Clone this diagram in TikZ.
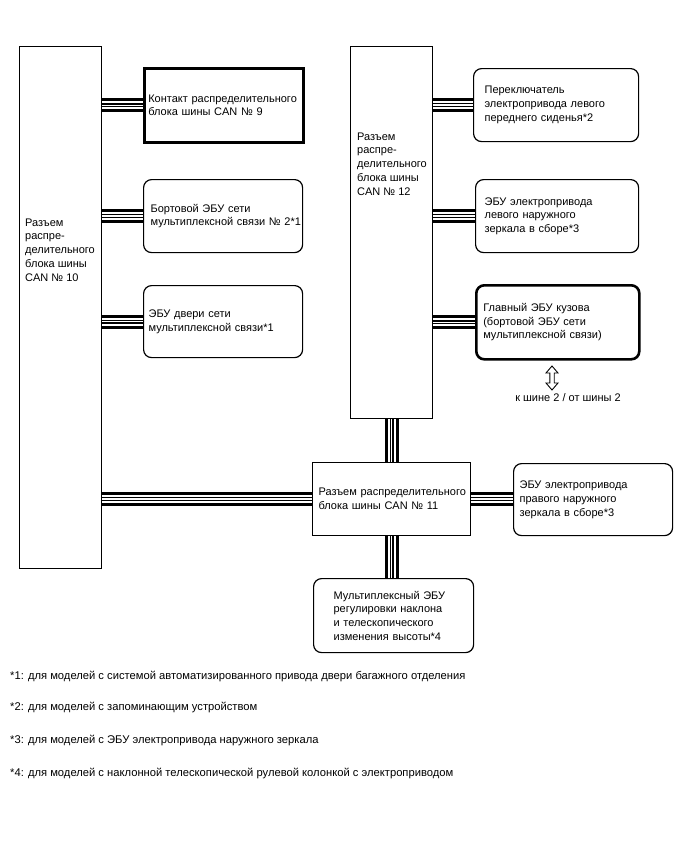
\documentclass[tikz,border=0pt]{standalone}
\usepackage{fontspec}
\setmainfont{Liberation Sans}
\usetikzlibrary{backgrounds}
\hfuzz=50pt
\begin{document}
\begin{tikzpicture}[x=1pt,y=-1pt,
  every node/.style={font=\fontsize{11}{13.75}\selectfont},
  sq/.style={draw, line width=1.2pt, fill=white, anchor=north west, inner ysep=0pt, align=left},
  thk/.style={sq, line width=2.6pt},
  rnd/.style={sq, rounded corners=8pt},
  rndthk/.style={rnd, line width=2.6pt},
  txt/.style={anchor=west, inner sep=0pt, align=left},
  bus/.style={line width=14pt,
    postaction={draw=white, line width=8pt},
    postaction={draw=black, line width=4.2pt},
    postaction={draw=white, line width=1.6pt}},
  note/.style={anchor=west, inner sep=0pt, font=\fontsize{11.2}{13}\selectfont}
]
\useasboundingbox (0,0) rectangle (688,852);

% tall connectors
\node[sq, minimum width=82pt, minimum height=522pt] (can10) at (19,46) {};
\node[txt] (t10) at (25,250) {Разъем\\распре-\\делительного\\блока шины\\CAN № 10};
\node[sq, minimum width=82pt, minimum height=372pt] (can12) at (350,46) {};
\node[txt] (t12) at (357,164) {Разъем\\распре-\\делительного\\блока шины\\CAN № 12};

% left column
\node[thk, minimum width=159pt, minimum height=74pt, inner xsep=4pt, text width=151pt] (c9) at (143,67)
  {\mbox{Контакт распределительного}\\блока шины CAN № 9};
\node[rnd, minimum width=159pt, minimum height=73pt, inner xsep=7pt, text width=145pt] (b2) at (143,179)
  {Бортовой ЭБУ сети\\\mbox{мультиплексной связи № 2*1}};
\node[rnd, minimum width=159pt, minimum height=72pt, inner xsep=5pt, text width=149pt] (dv) at (143,285)
  {ЭБУ двери сети\\мультиплексной связи*1};

% right column
\node[rnd, minimum width=165pt, minimum height=73pt, inner xsep=11pt, text width=143pt] (sw) at (473,68)
  {Переключатель\\электропривода левого\\переднего сиденья*2};
\node[rnd, minimum width=163pt, minimum height=73pt, inner xsep=9pt, text width=145pt] (lm) at (475,179)
  {ЭБУ электропривода\\левого наружного\\зеркала в сборе*3};
\node[rndthk, minimum width=163pt, minimum height=74pt, inner xsep=7pt, text width=149pt] (bm) at (475,284)
  {Главный ЭБУ кузова\\(бортовой ЭБУ сети\\мультиплексной связи)};

% bottom
\node[sq, minimum width=158pt, minimum height=73pt, inner xsep=6pt, text width=146pt] (can11) at (312,462)
  {\mbox{Разъем распределительного}\\блока шины CAN № 11};
\node[rnd, minimum width=159pt, minimum height=72pt, inner xsep=6pt, text width=147pt] (rm) at (513,463)
  {ЭБУ электропривода\\правого наружного\\зеркала в сборе*3};
\node[rnd, minimum width=160pt, minimum height=74pt, inner xsep=20pt, text width=120pt] (mx) at (313,578)
  {Мультиплексный ЭБУ\\регулировки наклона\\и телескопического\\изменения высоты*4};

% bus 2 arrow
\draw[line width=0.9pt, fill=white]
  (552,366) -- (558,373) -- (554.2,373) -- (554.2,383) -- (558,383) -- (552,390)
  -- (546,383) -- (549.8,383) -- (549.8,373) -- (546,373) -- cycle;
\node[inner sep=0pt] (bus2) at (568,398) {к шине 2 / от шины 2};

% footnotes
\node[note] (n1) at (10,676) {*1: для моделей с системой автоматизированного привода двери багажного отделения};
\node[note] (n2) at (10,707) {*2: для моделей с запоминающим устройством};
\node[note] (n3) at (10,740) {*3: для моделей с ЭБУ электропривода наружного зеркала};
\node[note] (n4) at (10,773) {*4: для моделей с наклонной телескопической рулевой колонкой с электроприводом};

\begin{pgfonlayer}{background}
\draw[bus] (can10.east |- c9.west) -- (c9.west);
\draw[bus] (can10.east |- b2.west) -- (b2.west);
\draw[bus] (can10.east |- dv.west) -- (dv.west);
\draw[bus] (can10.east |- can11.west) -- (can11.west);
\draw[bus] (can12.east |- sw.west) -- (sw.west);
\draw[bus] (can12.east |- lm.west) -- (lm.west);
\draw[bus] (can12.east |- bm.west) -- (bm.west);
\draw[bus] (can12.south) -- (can12.south |- can11.north);
\draw[bus] (can11.east) -- (can11.east -| rm.west);
\draw[bus] (can11.south) -- (can11.south |- mx.north);
\end{pgfonlayer}
\end{tikzpicture}
\end{document}
